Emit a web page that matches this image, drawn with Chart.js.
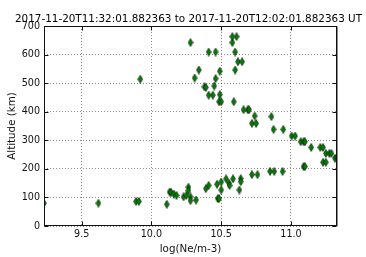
<!DOCTYPE html>
<html>
<head>
<meta charset="utf-8">
<script src="https://cdn.jsdelivr.net/npm/chart.js@4"></script>
<style>
  html, body { margin: 0; padding: 0; background: #fff; }
</style>
</head>
<body>
<canvas id="altChart" width="366" height="257"></canvas>
<script>
const titleText = '2017-11-20T11:32:01.882363 to 2017-11-20T12:02:01.882363 UT';
const xTitle = 'log(Ne/m-3)';
const yTitle = 'Altitude (km)';

const xTicks = [9.5, 10.0, 10.5, 11.0];
const yTicks = [0, 100, 200, 300, 400, 500, 600, 700];

// log electron density for each sample
const logNe = [
    9.23, 9.62, 9.89, 9.91, 9.92, 10.11, 10.13, 10.14, 10.16, 10.18,
    10.23, 10.25, 10.265, 10.265, 10.28, 10.28, 10.32, 10.28, 10.31, 10.34,
    10.38, 10.39, 10.41, 10.44, 10.41, 10.46, 10.45, 10.46, 10.49, 10.49,
    10.485, 10.50, 10.58, 10.58, 10.61, 10.60, 10.60, 10.62, 10.65, 10.59,
    10.66, 10.69, 10.70, 10.74, 10.72, 10.75, 10.86, 10.875, 10.945, 11.005,
    11.03, 11.07, 11.09, 11.10, 11.145, 11.21, 11.23, 11.25, 11.275, 11.29,
    11.315, 11.33, 11.23, 11.25, 11.09, 11.10, 10.94, 10.88, 10.85, 10.76,
    10.72, 10.64, 10.64, 10.63, 10.39, 10.41, 10.47, 10.475, 10.485, 10.50,
    10.50, 10.535, 10.555, 10.56, 10.585
];

// altitude (km) for each sample
const altitudeKm = [
    80, 80, 86, 86, 514, 76, 119, 118, 112, 107,
    102, 107, 136, 124, 102, 89, 91, 642, 518, 546,
    487, 485, 458, 458, 609, 609, 490, 516, 542, 460,
    435, 435, 642, 663, 663, 609, 546, 575, 575, 435,
    407, 407, 407, 385, 359, 359, 383, 338, 338, 315,
    315, 295, 295, 295, 275, 275, 275, 254, 254, 254,
    237, 240, 223, 223, 208, 208, 191, 191, 191, 180,
    180, 166, 155, 126, 131, 142, 146, 96, 96, 154,
    126, 165, 150, 142, 165
];

// thin green diamond like matplotlib 'gd'
const makeDiamond = () => {
    const c = document.createElement('canvas');
    c.width = 6;
    c.height = 9;
    const g = c.getContext('2d');
    g.beginPath();
    g.moveTo(3, 0.5);
    g.lineTo(5.4, 4.5);
    g.lineTo(3, 8.5);
    g.lineTo(0.6, 4.5);
    g.closePath();
    g.fillStyle = '#008000';
    g.fill();
    g.lineWidth = 0.6;
    g.strokeStyle = '#000';
    g.stroke();
    return c;
};

const framePlugin = {
    id: 'frame',
    afterDraw(chart) {
        const { ctx, chartArea: a, scales } = chart;
        const l = Math.round(a.left) + 0.5;
        const r = Math.round(a.right) - 0.5;
        const t = Math.round(a.top) + 0.5;
        const b = Math.round(a.bottom) - 0.5;
        ctx.save();
        ctx.setLineDash([]);
        ctx.strokeStyle = '#111';
        ctx.lineWidth = 1;
        ctx.beginPath();
        xTicks.forEach(v => {
            const px = Math.round(scales.x.getPixelForValue(v)) + 0.5;
            ctx.moveTo(px, b); ctx.lineTo(px, b - 4);
            ctx.moveTo(px, t); ctx.lineTo(px, t + 4);
        });
        yTicks.forEach(v => {
            const py = Math.round(scales.y.getPixelForValue(v)) + 0.5;
            ctx.moveTo(l, py); ctx.lineTo(l + 4, py);
            ctx.moveTo(r, py); ctx.lineTo(r - 4, py);
        });
        ctx.stroke();
        ctx.strokeRect(l, t, r - l, b - t);
        ctx.strokeStyle = '#888';
        ctx.beginPath();
        ctx.moveTo(r + 1, t); ctx.lineTo(r + 1, b + 1);
        ctx.stroke();

        ctx.font = '10.4px "DejaVu Sans"';
        ctx.fillStyle = '#000';
        ctx.textAlign = 'center';
        ctx.textBaseline = 'alphabetic';
        ctx.fillText(titleText, (a.left + a.right) / 2 - 2, 21.5);
        ctx.restore();
    }
};

const ctx = document.getElementById('altChart').getContext('2d');
new Chart(ctx, {
    type: 'scatter',
    data: {
        datasets: [{
            data: logNe.map((v, i) => ({ x: v, y: altitudeKm[i] })),
            pointStyle: makeDiamond(),
            pointRadius: 4,
            pointHoverRadius: 4,
            clip: 0
        }]
    },
    options: {
        responsive: false,
        animation: false,
        layout: { padding: { top: 26, right: 29, left: 0, bottom: 0 } },
        plugins: {
            legend: { display: false },
            tooltip: { enabled: false },
            title: { display: false }
        },
        scales: {
            x: {
                type: 'linear',
                min: 9.23,
                max: 11.33,
                afterBuildTicks: axis => { axis.ticks = xTicks.map(v => ({ value: v })); },
                afterFit: scale => { scale.height = 31; },
                grid: { color: 'rgba(0,0,0,0.45)', lineWidth: 1, drawTicks: false },
                border: { display: false, dash: [1, 2] },
                ticks: {
                    color: '#111',
                    padding: 3,
                    maxRotation: 0,
                    font: { family: 'DejaVu Sans', size: 9.6 },
                    callback: v => Number(v).toFixed(1)
                },
                title: {
                    display: true,
                    text: xTitle,
                    color: '#111',
                    padding: { top: 0, bottom: 1 },
                    font: { family: 'DejaVu Sans', size: 10.3 }
                }
            },
            y: {
                type: 'linear',
                min: 0,
                max: 700,
                afterBuildTicks: axis => { axis.ticks = yTicks.map(v => ({ value: v })); },
                afterFit: scale => { scale.width = 44; },
                grid: { color: 'rgba(0,0,0,0.45)', lineWidth: 1, drawTicks: false },
                border: { display: false, dash: [1, 2] },
                ticks: {
                    color: '#111',
                    padding: 4,
                    font: { family: 'DejaVu Sans', size: 9.6 }
                },
                title: {
                    display: true,
                    text: yTitle,
                    color: '#111',
                    padding: { top: 6, bottom: 0 },
                    font: { family: 'DejaVu Sans', size: 10.3 }
                }
            }
        }
    },
    plugins: [framePlugin]
});
</script>
</body>
</html>
